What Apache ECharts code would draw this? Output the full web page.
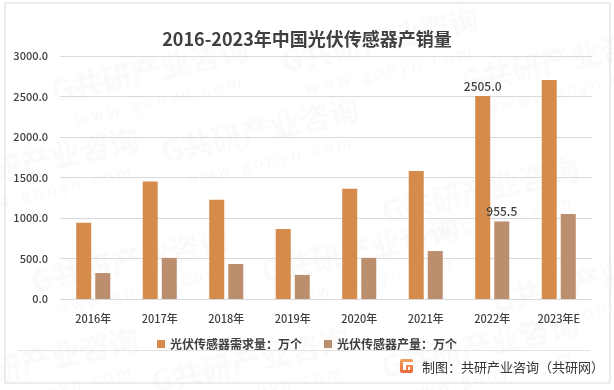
<!DOCTYPE html>
<html><head><meta charset="utf-8">
<script src="https://cdn.jsdelivr.net/npm/echarts@6/dist/echarts.min.js"></script>
<style>html,body{margin:0;padding:0;background:#fff}#c{width:614px;height:390px}</style>
</head><body><div id="c"></div>
<script>
const categories = ['2016年','2017年','2018年','2019年','2020年','2021年','2022年','2023年E'];
const demand = [940, 1450, 1225, 865, 1360, 1580, 2505.0, 2705];
const production = [320, 508, 432, 298, 508, 592, 955.5, 1050];
const labeledIndex = 6;
const yTicks = {min: 0, max: 3000, interval: 500};
const seriesNames = ['光伏传感器需求量：万个', '光伏传感器产量：万个'];
const titleText = '2016-2023年中国光伏传感器产销量';
const footerText = '制图：共研产业咨询（共研网）';

const FONT = '"Noto Sans CJK SC","Noto Sans",sans-serif';
function withLabel(arr){
  return arr.map((v,i)=> i===labeledIndex ? {value:v, label:{show:true, position:'top', distance:4, formatter:(p)=>Number(p.value).toFixed(1), color:'#404040', fontSize:12, fontWeight:500, fontFamily:FONT}} : v);
}
const wm = [];
const wmPos = [[150,70],[380,40],[560,60],[40,160],[260,130],[480,190],[130,260],[360,250],[590,280],[40,360],[250,360],[480,345]];
wmPos.forEach(([x,y])=>{
  wm.push({type:'text', x:x, y:y, rotation:0.22, z:-10, style:{text:'G共研产业咨询', fill:'rgba(180,180,180,0.07)', font:'bold 30px '+FONT, textAlign:'center', textVerticalAlign:'middle'}});
  wm.push({type:'text', x:x+8, y:y+30, rotation:0.22, z:-10, style:{text:'w w w . g o n y n . c o m', fill:'rgba(180,180,180,0.09)', font:'16px '+FONT, textAlign:'center', textVerticalAlign:'middle'}});
});

const chart = echarts.init(document.getElementById('c'), null, {renderer:'canvas'});
chart.setOption({
  backgroundColor:'#fff',
  animation:false,
  title:{text:titleText, left:'center', top:25, textStyle:{fontFamily:FONT, fontSize:18, fontWeight:'bold', color:'#404040'}},
  grid:{left:60, right:22, top:56, bottom:91},
  legend:{data:seriesNames, left:'center', top:333, itemWidth:8, itemHeight:8, itemGap:22, icon:'rect',
    textStyle:{fontFamily:FONT, fontSize:12, color:'#404040', fontWeight:'bold'}},
  xAxis:{type:'category', data:categories, axisTick:{show:false},
    axisLine:{lineStyle:{color:'#d9d9d9'}},
    axisLabel:{fontFamily:FONT, fontSize:11, color:'#404040', fontWeight:500, margin:14}},
  yAxis:{type:'value', min:yTicks.min, max:yTicks.max, interval:yTicks.interval,
    axisLabel:{formatter:(v)=>v.toFixed(1), fontFamily:FONT, fontSize:11, color:'#404040', fontWeight:500, margin:12},
    splitLine:{lineStyle:{color:'#d9d9d9'}}, axisLine:{show:false}, axisTick:{show:false}},
  series:[
    {name:seriesNames[0], type:'bar', data:withLabel(demand), barWidth:15, barGap:'27%', itemStyle:{color:'#D48B4B'}},
    {name:seriesNames[1], type:'bar', data:withLabel(production), barWidth:15, barGap:'27%', itemStyle:{color:'#BB8E6D'}}
  ],
  graphic: wm.concat([
    {type:'rect', shape:{x:5, y:3, width:605, height:380}, style:{fill:'none', stroke:'#d9d9d9', lineWidth:1}, z:-5},
    {type:'line', shape:{x1:18, y1:350.5, x2:590, y2:350.5}, style:{stroke:'#e3e3e3', lineWidth:1}},
    {type:'rect', shape:{x:400, y:359, width:13, height:14, r:2}, style:{fill:new echarts.graphic.LinearGradient(0,0,0,1,[{offset:0,color:'#F6A15A'},{offset:1,color:'#EA6A3C'}])}},
    {type:'rect', shape:{x:403, y:362, width:10, height:3}, style:{fill:'#fff'}},
    {type:'rect', shape:{x:403, y:365, width:3, height:5}, style:{fill:'#fff'}},
    {type:'rect', shape:{x:408, y:367, width:2, height:3}, style:{fill:'#fff'}},
    {type:'text', x:422, y:367, style:{text:footerText, font:'13px '+FONT, fill:'#333', textVerticalAlign:'middle'}}
  ])
});
</script></body></html>
